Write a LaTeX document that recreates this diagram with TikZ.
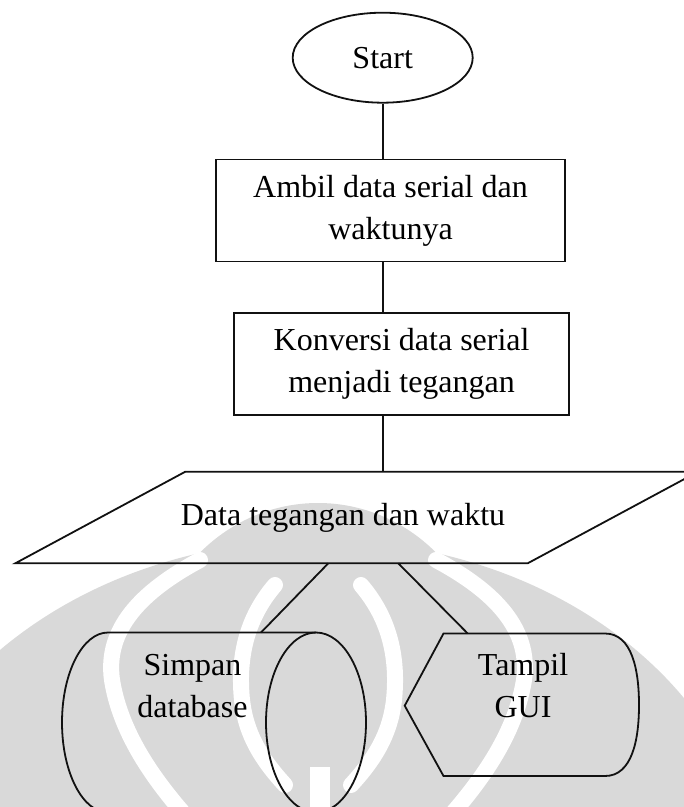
\documentclass[tikz,border=0pt]{standalone}
\usepackage{fontspec}
\setmainfont{Liberation Serif}
\usetikzlibrary{shapes.geometric,positioning,calc}
\definecolor{ink}{HTML}{111111}
\definecolor{wmgray}{HTML}{D9D9D9}

\tikzset{
  flow/.style={draw=ink,line width=0.9pt},
  startnode/.style={ellipse,draw=ink,line width=0.9pt,minimum width=90pt,
    minimum height=45pt,inner sep=0pt,font=\fontsize{16}{21}\selectfont},
  procbox/.style={rectangle,draw=ink,line width=0.9pt,minimum height=51pt,
    align=center,inner sep=0pt,font=\fontsize{16}{21}\selectfont},
  label/.style={align=center,inner sep=0pt,font=\fontsize{16}{21}\selectfont},
  gap/.style={draw=white,line width=8pt,line cap=round}
}

\begin{document}
\begin{tikzpicture}[x=0.5pt,y=-0.5pt]
  \useasboundingbox (0,0) rectangle (684,807);
  \clip (0,0) rectangle (684,807);
  % faint emblem in the background
  \fill[wmgray] (318,900) ellipse[x radius=442,y radius=360];
  \fill[wmgray] (318,680) ellipse[x radius=170,y radius=177];
  \draw[gap] (200,560) .. controls (140,592) and (105,630) .. (112,680)
    .. controls (120,730) and (150,775) .. (185,815);
  \draw[gap] (436,560) .. controls (496,592) and (531,630) .. (524,680)
    .. controls (516,730) and (486,775) .. (451,815);
  \draw[gap] (275,585) .. controls (245,620) and (238,660) .. (242,700)
    .. controls (246,735) and (262,760) .. (285,785);
  \draw[gap] (361,585) .. controls (391,620) and (398,660) .. (394,700)
    .. controls (390,735) and (374,760) .. (351,785);
  \fill[white] (310,767) rectangle (330,807);
  % top of the flow
  \node[startnode] (start) at (382.7,57.7) {Start};
  \node[procbox,minimum width=174.5pt] (ambil) at (390.5,210.5)
    {Ambil data serial dan\\waktunya};
  \node[procbox,minimum width=167.5pt] (konversi) at (401.6,364)
    {Konversi data serial\\menjadi tegangan};
  % input/output parallelogram
  \coordinate (io-tl) at (185.3,471.7);
  \coordinate (io-tr) at (698,471.7);
  \coordinate (io-br) at (527.7,563.3);
  \coordinate (io-bl) at (15.3,563.3);
  \draw[flow] (io-tl) -- (io-tr) -- (io-br) -- (io-bl) -- cycle;
  \node[label] (data) at (343,518) {Data tegangan dan waktu};
  \coordinate (io-out1) at (328.3,563.3);
  \coordinate (io-out2) at (398.3,563.3);
  % storage drum
  \draw[flow] (316,632.5) -- (108,632.5)
    arc[start angle=270,end angle=90,x radius=46,y radius=90] -- (316,812.5);
  \draw[flow] (316,722.5) ellipse[x radius=50,y radius=90];
  \coordinate (simpan-in) at (261,632.5);
  \node[label] (simpan) at (192.5,686) {Simpan\\database};
  % display symbol
  \draw[flow] (443.5,633.5) -- (605,633.5)
    .. controls (632,633.5) and (639,670) .. (639,705)
    .. controls (639,740) and (632,776) .. (605,776)
    -- (443.5,776) -- (404.7,705.7) -- cycle;
  \coordinate (gui-in) at (467.7,633.5);
  \node[label] (gui) at (523,686) {Tampil\\GUI};
  % connectors
  \draw[flow] (start.south) -- (start.south |- ambil.north);
  \draw[flow] (start.south |- ambil.south) -- (start.south |- konversi.north);
  \draw[flow] (start.south |- konversi.south) -- (start.south |- io-tl);
  \draw[flow] (io-out1) -- (simpan-in);
  \draw[flow] (io-out2) -- (gui-in);
\end{tikzpicture}
\end{document}
